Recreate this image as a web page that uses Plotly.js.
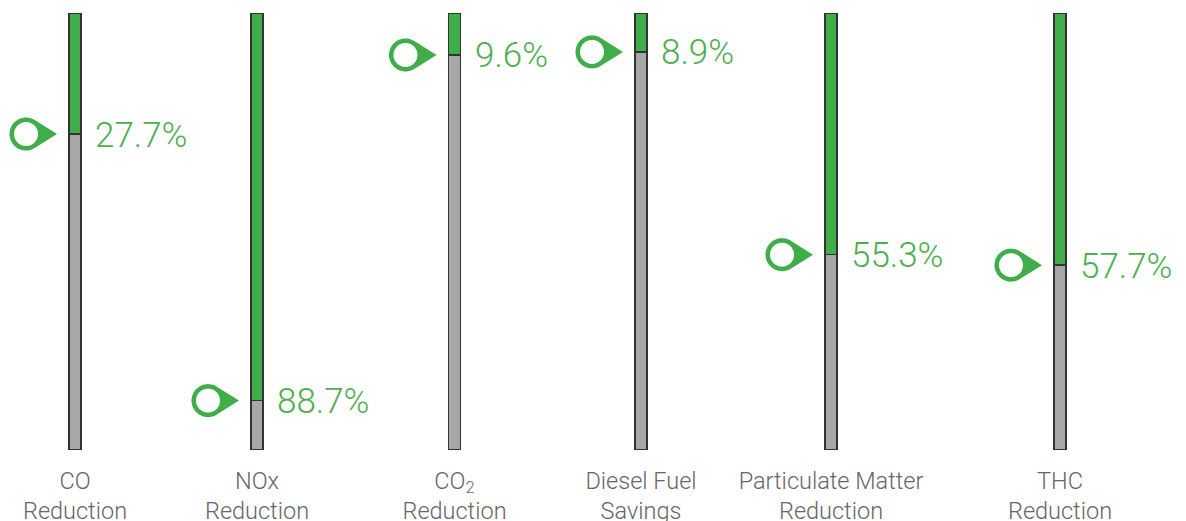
<!DOCTYPE html>
<html>
<head>
<meta charset="utf-8">
<script src="https://cdn.plot.ly/plotly-3.0.1.min.js"></script>
<style>html,body{margin:0;padding:0;background:#fff;}#chart{width:1186px;height:521px;}</style>
</head>
<body>
<div id="chart"></div>
<script>
// ---- data ----
const categories = ["CO<br>Reduction", "NOx<br>Reduction", "CO<sub>2</sub><br>Reduction",
                    "Diesel Fuel<br>Savings", "Particulate Matter<br>Reduction", "THC<br>Reduction"];
const reductionPct = [27.7, 88.7, 9.6, 8.9, 55.3, 57.7];
const valueLabels = ["27.7%", "88.7%", "9.6%", "8.9%", "55.3%", "57.7%"];

// ---- layout / style ----
const W = 1186;
const centersPx = [75, 257, 454.5, 641, 831, 1060];
const halfDomainPx = 74;
const barPx = 12;
const GREEN = "#3fae49", GRAY = "#a7a7a7", OUTLINE = "#333333";
const TEXT_GREEN = "#4caf50", TICK_GRAY = "#666666";
const FONT = "Roboto, 'Liberation Sans', Arial, sans-serif";

const TIP = -18, CX = -49, RO = 16.5, RI = 12, NSEG = 60;

function outerPath() {
  const th = Math.acos(RO / (TIP - CX));
  let p = "M" + TIP + ",0";
  for (let k = 0; k <= NSEG; k++) {
    const a = th + (2 * Math.PI - 2 * th) * k / NSEG;
    p += " L" + (CX + RO * Math.cos(a)).toFixed(2) + "," + (RO * Math.sin(a)).toFixed(2);
  }
  return p + " Z";
}
function innerPath() {
  let p = "M" + (CX + RI).toFixed(2) + ",0";
  for (let k = 1; k < NSEG; k++) {
    const a = 2 * Math.PI * k / NSEG;
    p += " L" + (CX + RI * Math.cos(a)).toFixed(2) + "," + (RI * Math.sin(a)).toFixed(2);
  }
  return p + " Z";
}

const traces = [], shapes = [], annotations = [];
const layout = {
  width: W, height: 521,
  margin: {l: 0, r: 0, t: 13, b: 71},
  paper_bgcolor: "#fff", plot_bgcolor: "#fff",
  showlegend: false, barmode: "stack",
  yaxis: {range: [0, 100], visible: false, fixedrange: true},
  font: {family: FONT}
};
const barWidth = barPx / (2 * halfDomainPx);

categories.forEach((cat, i) => {
  const ax = i === 0 ? "x" : "x" + (i + 1);
  const axName = i === 0 ? "xaxis" : "xaxis" + (i + 1);
  const remaining = 100 - reductionPct[i];
  traces.push({
    type: "bar", x: [0], y: [remaining], xaxis: ax, yaxis: "y", width: barWidth,
    marker: {color: GRAY, line: {color: OUTLINE, width: 1.5}}, hoverinfo: "skip"
  });
  traces.push({
    type: "bar", x: [0], y: [reductionPct[i]], xaxis: ax, yaxis: "y", width: barWidth,
    marker: {color: GREEN, line: {color: OUTLINE, width: 1.5}}, hoverinfo: "skip"
  });
  layout[axName] = {
    domain: [(centersPx[i] - halfDomainPx) / W, (centersPx[i] + halfDomainPx) / W],
    anchor: "y", type: "linear", range: [-0.5, 0.5],
    showgrid: false, zeroline: false, showline: false, ticks: "",
    tickvals: [0], ticktext: [cat], ticklabelstandoff: 14,
    tickfont: {size: 23.5, color: TICK_GRAY, family: FONT, weight: 300},
    fixedrange: true
  };
  const base = {type: "path", xref: ax, yref: "y", xsizemode: "pixel", ysizemode: "pixel",
                xanchor: 0, yanchor: remaining, line: {width: 0}};
  shapes.push(Object.assign({}, base, {path: outerPath(), fillcolor: GREEN}));
  shapes.push(Object.assign({}, base, {path: innerPath(), fillcolor: "#ffffff"}));
  annotations.push({
    xref: ax, yref: "y", x: 0, y: remaining, xanchor: "left", yanchor: "middle",
    xshift: 18, yshift: -1, showarrow: false, text: valueLabels[i],
    font: {size: 35, color: TEXT_GREEN, family: FONT, weight: 300}
  });
});

layout.shapes = shapes;
layout.annotations = annotations;
Plotly.newPlot("chart", traces, layout, {displayModeBar: false, staticPlot: true});
</script>
</body>
</html>
